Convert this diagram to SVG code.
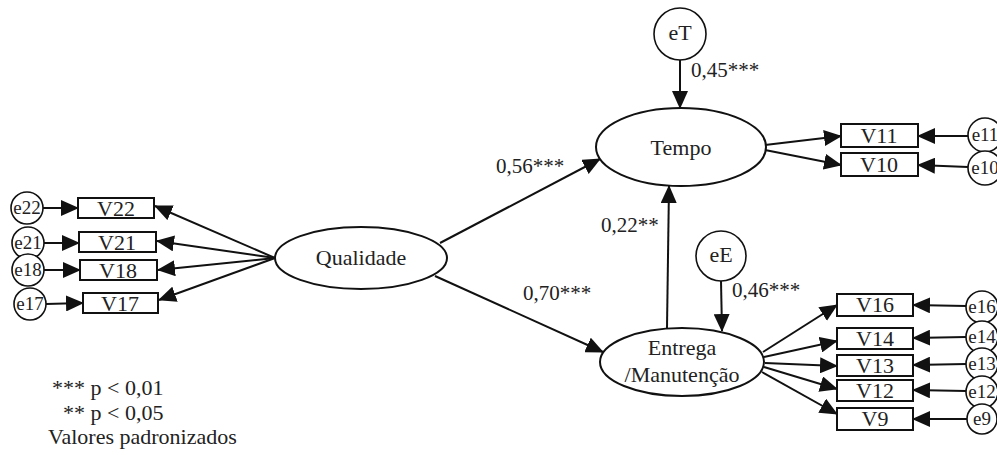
<svg xmlns="http://www.w3.org/2000/svg" width="997" height="455" viewBox="0 0 997 455" font-family="Liberation Serif, DejaVu Serif, serif">
<defs>
<marker id="ah" markerUnits="userSpaceOnUse" markerWidth="18" markerHeight="16" refX="17" refY="8" orient="auto">
<path d="M0,0 L18,8 L0,16 Z" fill="#111"/>
</marker>
<style>
text{fill:#222;}
.lat{fill:#fff;stroke:#111;stroke-width:2;}
.obs{fill:#fff;stroke:#111;stroke-width:2;}
.err{fill:#fff;stroke:#111;stroke-width:1.6;}
.nl{font-size:22px;text-anchor:middle;}
.vl{font-size:22px;text-anchor:middle;}
.el{font-size:19px;text-anchor:middle;}
.lbl{font-size:21px;}
.leg{font-size:22px;}
#edges line{stroke:#111;stroke-width:2;marker-end:url(#ah);}
</style>
</defs>
<rect width="997" height="455" fill="#fff"/>
<g id="edges">
<line x1="43" y1="208" x2="78" y2="208"/>
<line x1="44" y1="243" x2="79" y2="243"/>
<line x1="44" y1="270" x2="80" y2="270"/>
<line x1="46" y1="304" x2="83" y2="303"/>
<line x1="275" y1="258" x2="155" y2="206"/>
<line x1="275" y1="258" x2="157" y2="241"/>
<line x1="275" y1="258" x2="158" y2="270"/>
<line x1="275" y1="258" x2="159" y2="300"/>
<line x1="440" y1="243" x2="600" y2="159"/>
<line x1="435" y1="276" x2="603" y2="352"/>
<line x1="667" y1="328" x2="669" y2="186"/>
<line x1="680" y1="60" x2="680" y2="108"/>
<line x1="721" y1="281" x2="722" y2="331"/>
<line x1="765" y1="145" x2="841" y2="136"/>
<line x1="765" y1="150" x2="841" y2="165"/>
<line x1="968" y1="136" x2="918" y2="136"/>
<line x1="968" y1="167" x2="918" y2="165"/>
<line x1="763" y1="352" x2="837" y2="305"/>
<line x1="764" y1="357" x2="837" y2="341"/>
<line x1="765" y1="363" x2="837" y2="366"/>
<line x1="764" y1="367" x2="837" y2="389"/>
<line x1="762" y1="372" x2="837" y2="414"/>
<line x1="966" y1="306" x2="913" y2="305"/>
<line x1="966" y1="337" x2="913" y2="338"/>
<line x1="966" y1="364" x2="913" y2="365"/>
<line x1="966" y1="391" x2="913" y2="390"/>
<line x1="967" y1="419" x2="913" y2="419"/>
</g>
<g id="Qualidade"><ellipse class="lat" cx="361" cy="258" rx="86" ry="31"/><text class="nl" x="361" y="265">Qualidade</text></g>
<g id="Tempo"><ellipse class="lat" cx="681" cy="147" rx="85" ry="39"/><text class="nl" x="681" y="155">Tempo</text></g>
<g id="Entrega"><ellipse class="lat" cx="682" cy="362" rx="82" ry="34"/><text class="nl" x="682" y="355">Entrega</text><text class="nl" x="682" y="382">/Manutenção</text></g>
<g id="eT"><circle class="err" cx="680" cy="34" r="26"/><text class="nl" x="680" y="40">eT</text></g>
<g id="eE"><circle class="err" cx="721" cy="256" r="25"/><text class="nl" x="721" y="262">eE</text></g>
<g id="V22"><rect class="obs" x="78" y="198" width="76" height="20"/><text class="vl" x="116" y="216">V22</text></g>
<g id="V21"><rect class="obs" x="79" y="232" width="77" height="20"/><text class="vl" x="117" y="250">V21</text></g>
<g id="V18"><rect class="obs" x="80" y="260" width="77" height="20"/><text class="vl" x="118" y="278">V18</text></g>
<g id="V17"><rect class="obs" x="83" y="293" width="75" height="20"/><text class="vl" x="120" y="311">V17</text></g>
<g id="V11"><rect class="obs" x="841" y="124" width="77" height="23"/><text class="vl" x="879" y="143">V11</text></g>
<g id="V10"><rect class="obs" x="841" y="153" width="77" height="23"/><text class="vl" x="879" y="172">V10</text></g>
<g id="V16"><rect class="obs" x="837" y="294" width="76" height="22"/><text class="vl" x="875" y="312">V16</text></g>
<g id="V14"><rect class="obs" x="837" y="328" width="76" height="21"/><text class="vl" x="875" y="346">V14</text></g>
<g id="V13"><rect class="obs" x="837" y="355" width="76" height="21"/><text class="vl" x="875" y="373">V13</text></g>
<g id="V12"><rect class="obs" x="837" y="380" width="76" height="21"/><text class="vl" x="875" y="398">V12</text></g>
<g id="V9"><rect class="obs" x="837" y="408" width="76" height="22"/><text class="vl" x="875" y="426">V9</text></g>
<g id="e22"><circle class="err" cx="27" cy="208" r="16"/><text class="el" x="27" y="214">e22</text></g>
<g id="e21"><circle class="err" cx="28" cy="243" r="16"/><text class="el" x="28" y="249">e21</text></g>
<g id="e18"><circle class="err" cx="28" cy="270" r="16"/><text class="el" x="28" y="276">e18</text></g>
<g id="e17"><circle class="err" cx="30" cy="304" r="16"/><text class="el" x="30" y="310">e17</text></g>
<g id="e11"><circle class="err" cx="985" cy="135" r="17"/><text class="el" x="985" y="141">e11</text></g>
<g id="e10"><circle class="err" cx="985" cy="168" r="17"/><text class="el" x="985" y="174">e10</text></g>
<g id="e16"><circle class="err" cx="982" cy="307" r="16"/><text class="el" x="982" y="313">e16</text></g>
<g id="e14"><circle class="err" cx="982" cy="337" r="16"/><text class="el" x="982" y="343">e14</text></g>
<g id="e13"><circle class="err" cx="982" cy="364" r="16"/><text class="el" x="982" y="370">e13</text></g>
<g id="e12"><circle class="err" cx="982" cy="392" r="16"/><text class="el" x="982" y="398">e12</text></g>
<g id="e9"><circle class="err" cx="982" cy="419" r="15"/><text class="el" x="982" y="425">e9</text></g>
<g id="labels">
<text class="lbl" x="496" y="173">0,56***</text>
<text class="lbl" x="523" y="300">0,70***</text>
<text class="lbl" x="601" y="232">0,22**</text>
<text class="lbl" x="691" y="77">0,45***</text>
<text class="lbl" x="732" y="297">0,46***</text>
</g>
<g id="legend">
<text class="leg" x="52" y="395">*** p &lt; 0,01</text>
<text class="leg" x="63" y="420">** p &lt; 0,05</text>
<text class="leg" x="48" y="444">Valores padronizados</text>
</g>
</svg>
